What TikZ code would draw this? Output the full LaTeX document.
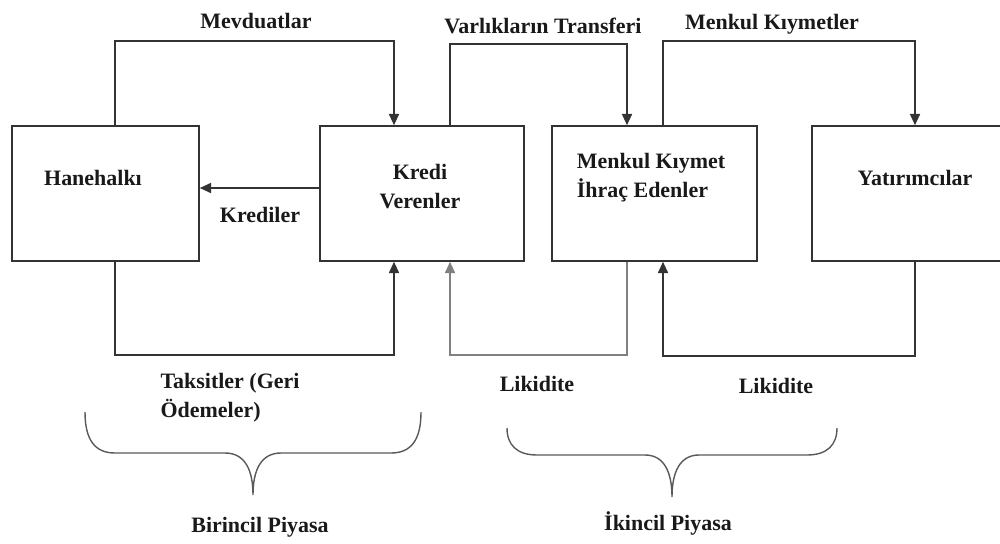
\documentclass[tikz,border=0pt]{standalone}
\usepackage{fontspec}
\setmainfont{Liberation Serif}
\usepackage{tikz}
\usetikzlibrary{arrows.meta}

\tikzset{
  kutu/.style={draw=black!80, line width=0.9pt, minimum height=27mm, inner sep=0pt},
  yazi/.style={font=\bfseries\fontsize{12.5}{16.5}\selectfont, inner sep=0pt, text=black!90},
  ok/.style={draw=black!80, line width=0.9pt, -{Triangle[length=6.5pt,width=5.8pt]}},
  acik/.style={ok, draw=black!50},
  parantez/.style={draw=black!65, line width=0.8pt},
}

\begin{document}
\begin{tikzpicture}[x=0.2mm, y=-0.2mm]
                \useasboundingbox (0,0) rectangle (1000,543);
                % kutular
                \node[kutu, minimum width=37.4mm] (hh) at (105.5,193.5) {};
                \node[kutu, minimum width=40.8mm] (kv) at (422,193.5) {};
                \node[kutu, minimum width=41mm] (mk) at (654.5,193.5) {};
                \node[kutu, minimum width=39.6mm] (yt) at (911,193.5) {};
                \node[yazi] (hhyazi) at (93,178) {Hanehalkı};
                \node[yazi, align=center] (kvyazi) at (420,187) {Kredi\\Verenler};
                \node[yazi, align=left] (mkyazi) at (651,178) {Menkul Kıymet\\İhraç Edenler};
                \node[yazi] (ytyazi) at (915,178) {Yatırımcılar};
                % ust baglantilar
                \draw[ok] ([xshift=1.9mm]hh.north) -- ++(0,-84) -| ([xshift=-5.6mm]kv.north);
                \draw[ok] ([xshift=5.6mm]kv.north) -- ++(0,-81) -| ([xshift=-5.5mm]mk.north);
                \draw[ok] ([xshift=1.7mm]mk.north) -- ++(0,-84) -| ([xshift=0.8mm]yt.north);
                \draw[ok] ([yshift=1.1mm]kv.west) -- ([yshift=1.1mm]hh.east);
                % alt baglantilar
                \draw[ok] ([xshift=1.9mm]hh.south) -- ++(0,93) -| ([xshift=-5.6mm]kv.south);
                \draw[acik] ([xshift=-5.5mm]mk.south) -- ++(0,93) -| ([xshift=5.6mm]kv.south);
                \draw[ok] ([xshift=0.8mm]yt.south) -- ++(0,94) -| ([xshift=1.7mm]mk.south);
                % etiketler
                \node[yazi] (mevduat) at (256,21) {Mevduatlar};
                \node[yazi] (transfer) at (543,26) {Varlıkların Transferi};
                \node[yazi] (menkul) at (772,24) {Menkul Kıymetler};
                \node[yazi] (kredi) at (260,215) {Krediler};
                \node[yazi, align=left] (taksit) at (230,398) {Taksitler (Geri\\Ödemeler)};
                \node[yazi] (likit1) at (537,384) {Likidite};
                \node[yazi] (likit2) at (776,386) {Likidite};
                % parantezler
                \draw[parantez] (85,412) .. controls (85,440) and (95,453) .. (115,453) -- (225,453)
                  .. controls (245,453) and (253,470) .. (253,495)
                  .. controls (253,470) and (261,453) .. (281,453) -- (391,453)
                  .. controls (411,453) and (421,440) .. (421,412);
                \draw[parantez] (507,428) .. controls (507,445) and (517,455) .. (537,455) -- (645,455)
                  .. controls (664,455) and (672,472) .. (672,497)
                  .. controls (672,472) and (680,455) .. (699,455) -- (807,455)
                  .. controls (827,455) and (837,445) .. (837,428);
                \node[yazi] (birincil) at (260,527) {Birincil Piyasa};
                \node[yazi] (ikincil) at (668,523) {İkincil Piyasa};
            \end{tikzpicture}
\end{document}
